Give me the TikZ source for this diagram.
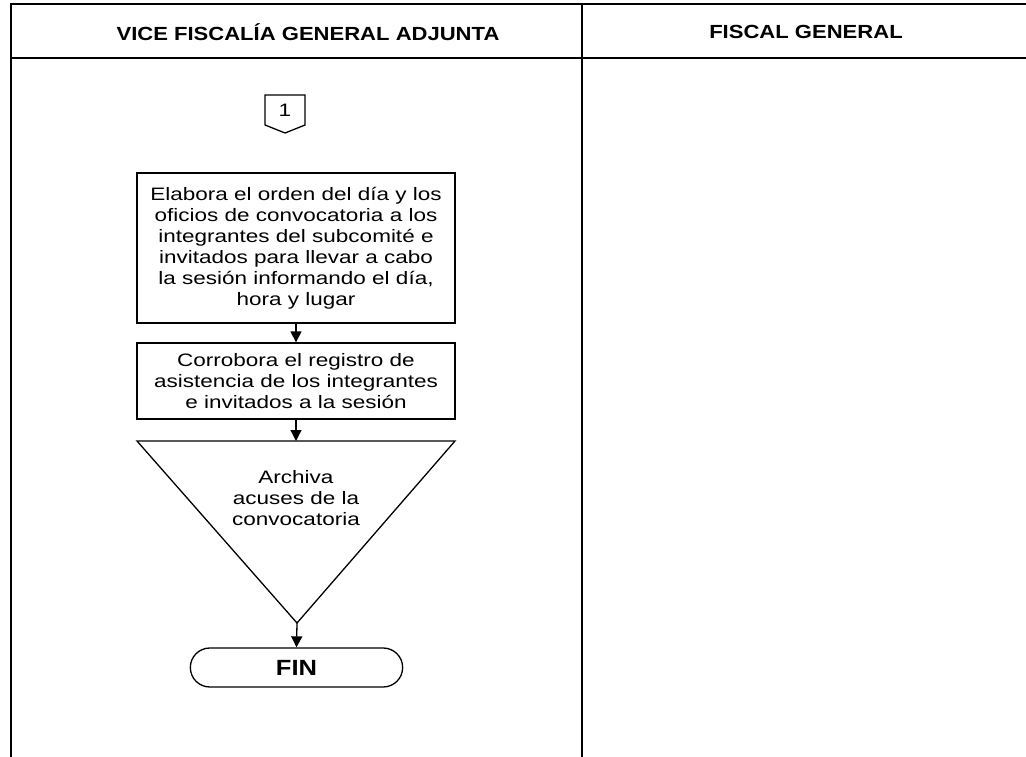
\documentclass[tikz,border=0pt]{standalone}
\usepackage{fontspec}
\setmainfont{Liberation Sans}
\newfontfamily\bodyfont[FakeStretch=1.25]{Liberation Sans}
\newfontfamily\headfont[FakeStretch=1.16]{Liberation Sans}
\usetikzlibrary{arrows.meta,shapes.misc}
\begin{document}
\begin{tikzpicture}[x=1pt,y=-1pt,
  frame/.style={line width=2pt,black},
  shapeline/.style={line width=1.3pt,black},
  procbox/.style={draw,line width=1.3pt,minimum width=318pt,inner sep=0pt,align=center,
    font=\bodyfont\fontsize{18}{21}\selectfont},
  headtext/.style={font=\headfont\bfseries\fontsize{19}{22}\selectfont},
  bodytext/.style={align=center,font=\bodyfont\fontsize{18}{21}\selectfont},
  flowarrow/.style={line width=1.3pt,-{Triangle[length=11pt,width=11pt]}},
  terminal/.style={draw,line width=1.3pt,rounded rectangle,minimum width=219pt,minimum height=39pt,
    font=\headfont\bfseries\fontsize{22}{26}\selectfont}
]
\useasboundingbox (0,0) rectangle (1026,757);
% frame
\draw[frame] (1030,4) -- (11,4) -- (11,760);
\draw[frame] (11,58) -- (1030,58);
\draw[frame] (582,4) -- (582,760);
\node[headtext] (h1) at (308,32) {VICE FISCALÍA GENERAL ADJUNTA};
\node[headtext] (h2) at (806,32) {FISCAL GENERAL};
% off-page connector
\draw[shapeline] (265,95) -- (305,95) -- (305,125) -- (285,133) -- (265,125) -- cycle;
\node[bodytext] (c1) at (285,110) {1};
% process boxes
\node[procbox,minimum height=150pt] (b1) at (296,248)
  {Elabora el orden del día y los\\oficios de convocatoria a los\\integrantes del subcomité e\\invitados para llevar a cabo\\la sesión informando el día,\\hora y lugar};
\node[procbox,minimum height=76pt] (b2) at (296,381)
  {Corrobora el registro de\\asistencia de los integrantes\\e invitados a la sesión};
% archive triangle
\coordinate (tl) at (137,441);
\coordinate (tr) at (455,441);
\coordinate (apex) at (297,623);
\coordinate (ttop) at (296,441);
\draw[shapeline] (tl) -- (tr) -- (apex) -- cycle;
\node[bodytext] (tri) at (296,498) {Archiva\\acuses de la\\convocatoria};
% terminal
\node[terminal] (fin) at (296.5,667.5) {FIN};
% arrows
\draw[flowarrow] (b1.south) -- (b2.north);
\draw[flowarrow] (b2.south) -- (ttop);
\draw[flowarrow] (apex) -- (fin.north);
\end{tikzpicture}
\end{document}
